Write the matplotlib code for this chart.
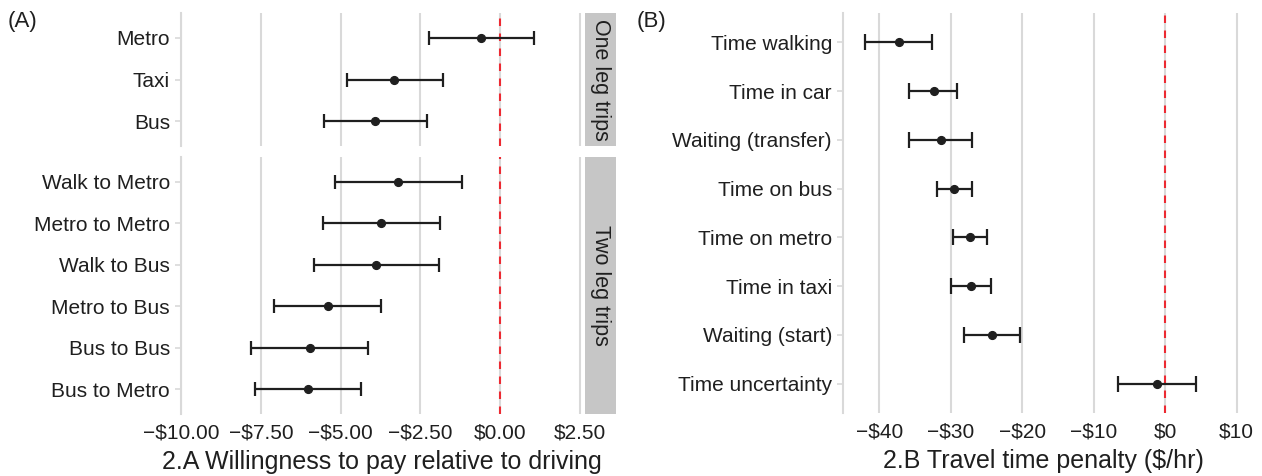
import numpy as np
import matplotlib.pyplot as plt

plt.rcParams['font.family'] = ['Liberation Sans', 'DejaVu Sans']
plt.rcParams['lines.scale_dashes'] = False

# panel A: willingness to pay relative to driving ($)
one_leg = ['Metro', 'Taxi', 'Bus']
one_est = [-0.60, -3.32, -3.91]
one_lo = [-2.24, -4.81, -5.52]
one_hi = [1.06, -1.80, -2.30]

two_leg = ['Walk to Metro', 'Metro to Metro', 'Walk to Bus',
           'Metro to Bus', 'Bus to Bus', 'Bus to Metro']
two_est = [-3.20, -3.73, -3.89, -5.40, -5.97, -6.02]
two_lo = [-5.19, -5.55, -5.85, -7.09, -7.80, -7.68]
two_hi = [-1.19, -1.87, -1.91, -3.73, -4.15, -4.36]

a_ticks = [-10, -7.5, -5, -2.5, 0, 2.5]
a_ticklabels = ['\u2212$10.00', '\u2212$7.50', '\u2212$5.00', '\u2212$2.50', '$0.00', '$2.50']

# panel B: travel time penalty ($/hr)
time_items = ['Time walking', 'Time in car', 'Waiting (transfer)', 'Time on bus',
              'Time on metro', 'Time in taxi', 'Waiting (start)', 'Time uncertainty']
time_est = [-37.3, -32.4, -31.4, -29.6, -27.3, -27.2, -24.2, -1.2]
time_lo = [-42.0, -35.8, -35.8, -32.0, -29.7, -30.0, -28.1, -6.6]
time_hi = [-32.7, -29.1, -27.0, -27.0, -24.9, -24.4, -20.3, 4.3]

b_ticks = [-40, -30, -20, -10, 0, 10]
b_ticklabels = ['\u2212$40', '\u2212$30', '\u2212$20', '\u2212$10', '$0', '$10']

ink = '#1f1f1f'
grid = '#d9d9d9'
red = '#ec2a32'

W, H = 1262, 476
fig = plt.figure(figsize=(W / 100, H / 100), dpi=100)


def px_axes(x0, y0, x1, y1):
    return fig.add_axes([x0 / W, 1 - y1 / H, (x1 - x0) / W, (y1 - y0) / H])


def draw_panel(ax, labels, est, lo, hi, xlim, ticks, cap):
    est, lo, hi = np.array(est), np.array(lo), np.array(hi)
    y = np.arange(len(labels))
    for t in ticks:
        ax.axvline(t, color=grid, lw=1.5, zorder=0)
    ax.axvline(0, color=red, lw=1.5, ls=(0, (5.4, 5.4)), zorder=1)
    ax.errorbar(est, y, xerr=[est - lo, hi - est], fmt='o', color=ink,
                ms=5.6, elinewidth=1.6, capsize=cap, capthick=1.6, zorder=3)
    ax.set_xlim(xlim)
    ax.set_ylim(len(labels) - 0.4, -0.6)
    ax.set_yticks(y, labels)
    ax.set_xticks(ticks)
    ax.tick_params(axis='y', length=4.5, width=1.2, color=grid,
                   labelsize=15, labelcolor=ink, pad=3.5)
    ax.tick_params(axis='x', length=0, labelsize=15, labelcolor=ink, pad=7)
    for side in ['top', 'right', 'bottom']:
        ax.spines[side].set_visible(False)
    ax.spines['left'].set_color(grid)
    ax.spines['left'].set_linewidth(1.5)


def strip(x0, y0, x1, y1, text):
    s = px_axes(x0, y0, x1, y1)
    s.set_facecolor('#c6c6c6')
    s.set_xticks([])
    s.set_yticks([])
    for sp in s.spines.values():
        sp.set_visible(False)
    s.text(0.5, 0.5, text, rotation=270, ha='center', va='center',
           fontsize=15.5, color=ink, transform=s.transAxes)


# (A) facetted by trip type
ax_one = px_axes(181, 13, 583, 146)
draw_panel(ax_one, one_leg, one_est, one_lo, one_hi, (-10.01, 2.6), a_ticks, 4.9)
ax_one.set_xticklabels([])

ax_two = px_axes(181, 157, 583, 414)
draw_panel(ax_two, two_leg, two_est, two_lo, two_hi, (-10.01, 2.6), a_ticks, 4.9)
ax_two.set_xticklabels(a_ticklabels)
ax_two.set_xlabel('2.A Willingness to pay relative to driving', fontsize=18,
                  color=ink, labelpad=5)

strip(585, 13, 616, 146, 'One leg trips')
strip(585, 157, 616, 414, 'Two leg trips')

# (B) time penalties
ax_b = px_axes(843, 13, 1243, 413)
draw_panel(ax_b, time_items, time_est, time_lo, time_hi, (-45.1, 10.9), b_ticks, 6.0)
ax_b.set_xticklabels(b_ticklabels)
ax_b.set_xlabel('2.B Travel time penalty ($/hr)', fontsize=18, color=ink, labelpad=5)

fig.text(8 / W, 1 - 22 / H, '(A)', fontsize=16, color=ink, va='center')
fig.text(637 / W, 1 - 22 / H, '(B)', fontsize=16, color=ink, va='center')

fig.savefig('out.png', dpi=100, facecolor='white')
